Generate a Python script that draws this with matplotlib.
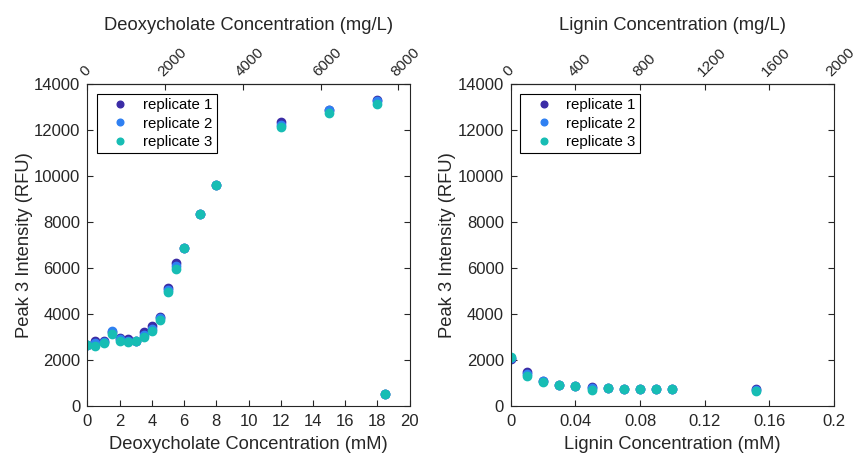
import numpy as np
import matplotlib
matplotlib.use("Agg")
import matplotlib.pyplot as plt

plt.rcParams['font.family'] = ['Liberation Sans', 'DejaVu Sans']

# Deoxycholate data (mM, RFU)
doc_conc = [0, 0.5, 1.0, 1.5, 2.0, 2.5, 3.0, 3.5, 4.0, 4.5, 5.0, 5.5, 6.0, 7.0, 8.0, 12.0, 15.0, 18.0, 18.5]
doc_rep1 = [2650, 2840, 2800, 3200, 2960, 2900, 2840, 3200, 3450, 3880, 5120, 6200, 6860, 8350, 9600, 12320, 12860, 13300, 520]
doc_rep2 = [2650, 2740, 2760, 3270, 2900, 2840, 2840, 3100, 3360, 3820, 5050, 6090, 6850, 8340, 9600, 12220, 12870, 13230, 520]
doc_rep3 = [2650, 2620, 2720, 3130, 2840, 2780, 2840, 2990, 3270, 3740, 4970, 5940, 6850, 8330, 9590, 12100, 12710, 13140, 520]

# Lignin data (mM, RFU)
lig_conc = [0, 0.01, 0.02, 0.03, 0.04, 0.05, 0.06, 0.07, 0.08, 0.09, 0.10, 0.152]
lig_rep1 = [2030, 1450, 1070, 900, 860, 840, 770, 740, 740, 725, 725, 725]
lig_rep2 = [2060, 1380, 1060, 900, 855, 780, 770, 740, 740, 725, 725, 700]
lig_rep3 = [2140, 1300, 1050, 895, 850, 700, 765, 740, 735, 725, 725, 665]

doc_mw = 414.55   # mg/L per mM
lig_mw = 10000.0

colors = ['#3b2ca6', '#2f80f2', '#17bdb4']
labels = ['replicate 1', 'replicate 2', 'replicate 3']
spine_c = '#262626'
tick_fs = 12
label_fs = 13.2
legend_fs = 10.8

fig = plt.figure(figsize=(8.57, 4.55), dpi=100)
ax1 = fig.add_axes([0.102, 0.108, 0.376, 0.708])
ax2 = fig.add_axes([0.596, 0.108, 0.377, 0.708])


def style(ax):
    for s in ax.spines.values():
        s.set_color(spine_c)
        s.set_linewidth(0.8)
    ax.tick_params(direction='in', length=4, width=0.8, colors=spine_c,
                   labelsize=tick_fs, right=True)
    ax.tick_params(axis='x', pad=6)
    ax.tick_params(axis='y', pad=5)
    ax.set_ylim(0, 14000)
    ax.set_yticks(np.arange(0, 14001, 2000))
    ax.set_ylabel('Peak 3 Intensity (RFU)', fontsize=label_fs, color=spine_c, labelpad=1)
    leg = ax.legend(loc='upper left', bbox_to_anchor=(0.0295, 0.969), borderaxespad=0,
                    fancybox=False, edgecolor='black', framealpha=1,
                    fontsize=legend_fs, handletextpad=0.25, borderpad=0.3,
                    labelspacing=0.29, markerscale=0.8, handlelength=2.5)
    leg.get_frame().set_linewidth(0.8)
    for t in leg.get_texts():
        t.set_color('black')


def top_axis(ax, factor, ticks, title):
    top = ax.secondary_xaxis('top', functions=(lambda x: x * factor, lambda x: x / factor))
    top.set_xticks(ticks)
    top.set_xticklabels([str(v) for v in ticks], rotation=45, ha='left', va='bottom',
                        rotation_mode='anchor')
    top.tick_params(direction='in', length=4, width=0.8, colors=spine_c,
                    labelsize=11, pad=3.5)
    top.set_xlabel(title, fontsize=label_fs, color=spine_c, labelpad=11)
    return top


for ys, c, lab in zip([doc_rep1, doc_rep2, doc_rep3], colors, labels):
    ax1.plot(doc_conc, ys, 'o', ms=6, color=c, label=lab, linestyle='none')
ax1.set_xlim(0, 20)
ax1.set_xticks(np.arange(0, 21, 2))
ax1.set_xlabel('Deoxycholate Concentration (mM)', fontsize=label_fs, color=spine_c, labelpad=5)
style(ax1)
top_axis(ax1, doc_mw, list(range(0, 8001, 2000)), 'Deoxycholate Concentration (mg/L)')

for ys, c, lab in zip([lig_rep1, lig_rep2, lig_rep3], colors, labels):
    ax2.plot(lig_conc, ys, 'o', ms=6, color=c, label=lab, linestyle='none')
ax2.set_xlim(0, 0.2)
ax2.set_xticks([0, 0.04, 0.08, 0.12, 0.16, 0.2])
ax2.set_xticklabels(['0', '0.04', '0.08', '0.12', '0.16', '0.2'])
ax2.set_xlabel('Lignin Concentration (mM)', fontsize=label_fs, color=spine_c, labelpad=5)
style(ax2)
top_axis(ax2, lig_mw, list(range(0, 2001, 400)), 'Lignin Concentration (mg/L)')

fig.savefig('out.png', dpi=100, facecolor='white')
